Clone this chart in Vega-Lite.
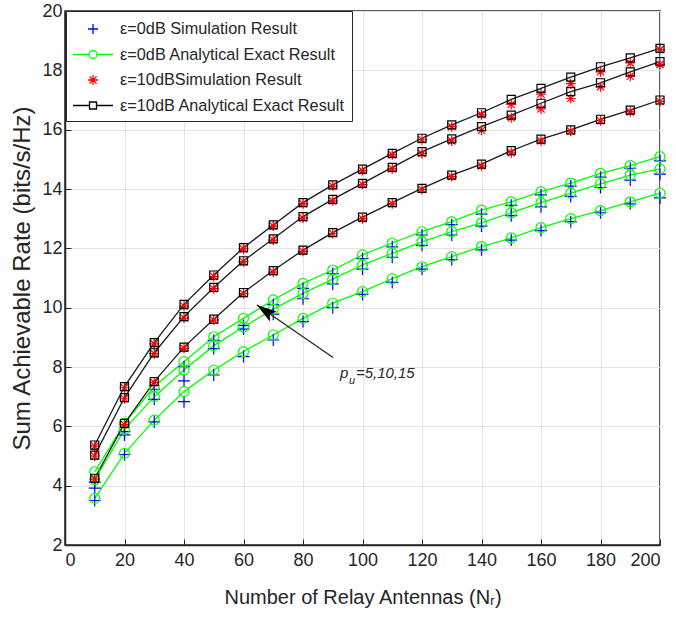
{
  "$schema": "https://vega.github.io/schema/vega-lite/v6.json",
  "width": 595,
  "height": 534,
  "autosize": "none",
  "padding": {"left": 65, "top": 11, "right": 16, "bottom": 76},
  "background": "white",
  "config": {
    "font": "Liberation Sans",
    "view": {"stroke": "#262626", "strokeWidth": 1.5},
    "axis": {
      "domainColor": "#262626", "domainWidth": 1.5, "tickColor": "#262626",
      "labelColor": "#262626", "titleColor": "#262626", "labelFontSize": 18,
      "gridColor": "#e3e3e3", "gridWidth": 1, "labelFont": "Liberation Sans",
      "titleFont": "Liberation Sans", "titleFontWeight": "normal"
    },
    "legend": {
      "orient": "none", "legendX": 1, "legendY": 0,
      "fillColor": "white", "strokeColor": "#262626", "padding": 7,
      "labelFont": "Liberation Sans", "labelFontSize": 16.3, "labelColor": "#262626", "labelLimit": 400,
      "symbolSize": 400, "symbolOffset": 9, "labelOffset": 16, "rowPadding": 5.5, "symbolStrokeWidth": 1.3, "symbolOpacity": 1
    }
  },
  "datasets": {
    "d": [
      {"N":10,"c":"g15","s":"ε=0dB Simulation Result","v":4.12},{"N":20,"c":"g15","s":"ε=0dB Simulation Result","v":5.82},{"N":30,"c":"g15","s":"ε=0dB Simulation Result","v":7.25},{"N":40,"c":"g15","s":"ε=0dB Simulation Result","v":8.01},{"N":50,"c":"g15","s":"ε=0dB Simulation Result","v":8.90},{"N":60,"c":"g15","s":"ε=0dB Simulation Result","v":9.40},{"N":70,"c":"g15","s":"ε=0dB Simulation Result","v":10.10},{"N":80,"c":"g15","s":"ε=0dB Simulation Result","v":10.65},{"N":90,"c":"g15","s":"ε=0dB Simulation Result","v":11.15},{"N":100,"c":"g15","s":"ε=0dB Simulation Result","v":11.65},{"N":110,"c":"g15","s":"ε=0dB Simulation Result","v":12.05},{"N":120,"c":"g15","s":"ε=0dB Simulation Result","v":12.45},{"N":130,"c":"g15","s":"ε=0dB Simulation Result","v":12.80},{"N":140,"c":"g15","s":"ε=0dB Simulation Result","v":13.15},{"N":150,"c":"g15","s":"ε=0dB Simulation Result","v":13.45},{"N":160,"c":"g15","s":"ε=0dB Simulation Result","v":13.80},{"N":170,"c":"g15","s":"ε=0dB Simulation Result","v":14.10},{"N":180,"c":"g15","s":"ε=0dB Simulation Result","v":14.40},{"N":190,"c":"g15","s":"ε=0dB Simulation Result","v":14.70},{"N":200,"c":"g15","s":"ε=0dB Simulation Result","v":14.95},
      {"N":10,"c":"g10","s":"ε=0dB Simulation Result","v":3.92},{"N":20,"c":"g10","s":"ε=0dB Simulation Result","v":5.71},{"N":30,"c":"g10","s":"ε=0dB Simulation Result","v":6.91},{"N":40,"c":"g10","s":"ε=0dB Simulation Result","v":7.53},{"N":50,"c":"g10","s":"ε=0dB Simulation Result","v":8.62},{"N":60,"c":"g10","s":"ε=0dB Simulation Result","v":9.28},{"N":70,"c":"g10","s":"ε=0dB Simulation Result","v":9.78},{"N":80,"c":"g10","s":"ε=0dB Simulation Result","v":10.30},{"N":90,"c":"g10","s":"ε=0dB Simulation Result","v":10.80},{"N":100,"c":"g10","s":"ε=0dB Simulation Result","v":11.30},{"N":110,"c":"g10","s":"ε=0dB Simulation Result","v":11.70},{"N":120,"c":"g10","s":"ε=0dB Simulation Result","v":12.10},{"N":130,"c":"g10","s":"ε=0dB Simulation Result","v":12.45},{"N":140,"c":"g10","s":"ε=0dB Simulation Result","v":12.75},{"N":150,"c":"g10","s":"ε=0dB Simulation Result","v":13.10},{"N":160,"c":"g10","s":"ε=0dB Simulation Result","v":13.40},{"N":170,"c":"g10","s":"ε=0dB Simulation Result","v":13.75},{"N":180,"c":"g10","s":"ε=0dB Simulation Result","v":14.05},{"N":190,"c":"g10","s":"ε=0dB Simulation Result","v":14.30},{"N":200,"c":"g10","s":"ε=0dB Simulation Result","v":14.50},
      {"N":10,"c":"g5","s":"ε=0dB Simulation Result","v":3.50},{"N":20,"c":"g5","s":"ε=0dB Simulation Result","v":5.05},{"N":30,"c":"g5","s":"ε=0dB Simulation Result","v":6.15},{"N":40,"c":"g5","s":"ε=0dB Simulation Result","v":6.83},{"N":50,"c":"g5","s":"ε=0dB Simulation Result","v":7.73},{"N":60,"c":"g5","s":"ε=0dB Simulation Result","v":8.35},{"N":70,"c":"g5","s":"ε=0dB Simulation Result","v":8.91},{"N":80,"c":"g5","s":"ε=0dB Simulation Result","v":9.53},{"N":90,"c":"g5","s":"ε=0dB Simulation Result","v":10.00},{"N":100,"c":"g5","s":"ε=0dB Simulation Result","v":10.45},{"N":110,"c":"g5","s":"ε=0dB Simulation Result","v":10.85},{"N":120,"c":"g5","s":"ε=0dB Simulation Result","v":11.30},{"N":130,"c":"g5","s":"ε=0dB Simulation Result","v":11.62},{"N":140,"c":"g5","s":"ε=0dB Simulation Result","v":11.95},{"N":150,"c":"g5","s":"ε=0dB Simulation Result","v":12.28},{"N":160,"c":"g5","s":"ε=0dB Simulation Result","v":12.60},{"N":170,"c":"g5","s":"ε=0dB Simulation Result","v":12.90},{"N":180,"c":"g5","s":"ε=0dB Simulation Result","v":13.20},{"N":190,"c":"g5","s":"ε=0dB Simulation Result","v":13.50},{"N":200,"c":"g5","s":"ε=0dB Simulation Result","v":13.70},
      {"N":10,"c":"g15","s":"ε=0dB Analytical Exact Result","v":4.47},{"N":20,"c":"g15","s":"ε=0dB Analytical Exact Result","v":6.10},{"N":30,"c":"g15","s":"ε=0dB Analytical Exact Result","v":7.34},{"N":40,"c":"g15","s":"ε=0dB Analytical Exact Result","v":8.18},{"N":50,"c":"g15","s":"ε=0dB Analytical Exact Result","v":9.02},{"N":60,"c":"g15","s":"ε=0dB Analytical Exact Result","v":9.64},{"N":70,"c":"g15","s":"ε=0dB Analytical Exact Result","v":10.26},{"N":80,"c":"g15","s":"ε=0dB Analytical Exact Result","v":10.82},{"N":90,"c":"g15","s":"ε=0dB Analytical Exact Result","v":11.27},{"N":100,"c":"g15","s":"ε=0dB Analytical Exact Result","v":11.78},{"N":110,"c":"g15","s":"ε=0dB Analytical Exact Result","v":12.18},{"N":120,"c":"g15","s":"ε=0dB Analytical Exact Result","v":12.56},{"N":130,"c":"g15","s":"ε=0dB Analytical Exact Result","v":12.90},{"N":140,"c":"g15","s":"ε=0dB Analytical Exact Result","v":13.29},{"N":150,"c":"g15","s":"ε=0dB Analytical Exact Result","v":13.57},{"N":160,"c":"g15","s":"ε=0dB Analytical Exact Result","v":13.91},{"N":170,"c":"g15","s":"ε=0dB Analytical Exact Result","v":14.20},{"N":180,"c":"g15","s":"ε=0dB Analytical Exact Result","v":14.53},{"N":190,"c":"g15","s":"ε=0dB Analytical Exact Result","v":14.79},{"N":200,"c":"g15","s":"ε=0dB Analytical Exact Result","v":15.09},
      {"N":10,"c":"g10","s":"ε=0dB Analytical Exact Result","v":4.20},{"N":20,"c":"g10","s":"ε=0dB Analytical Exact Result","v":5.90},{"N":30,"c":"g10","s":"ε=0dB Analytical Exact Result","v":7.00},{"N":40,"c":"g10","s":"ε=0dB Analytical Exact Result","v":7.90},{"N":50,"c":"g10","s":"ε=0dB Analytical Exact Result","v":8.72},{"N":60,"c":"g10","s":"ε=0dB Analytical Exact Result","v":9.35},{"N":70,"c":"g10","s":"ε=0dB Analytical Exact Result","v":9.95},{"N":80,"c":"g10","s":"ε=0dB Analytical Exact Result","v":10.48},{"N":90,"c":"g10","s":"ε=0dB Analytical Exact Result","v":10.96},{"N":100,"c":"g10","s":"ε=0dB Analytical Exact Result","v":11.44},{"N":110,"c":"g10","s":"ε=0dB Analytical Exact Result","v":11.83},{"N":120,"c":"g10","s":"ε=0dB Analytical Exact Result","v":12.22},{"N":130,"c":"g10","s":"ε=0dB Analytical Exact Result","v":12.56},{"N":140,"c":"g10","s":"ε=0dB Analytical Exact Result","v":12.86},{"N":150,"c":"g10","s":"ε=0dB Analytical Exact Result","v":13.20},{"N":160,"c":"g10","s":"ε=0dB Analytical Exact Result","v":13.54},{"N":170,"c":"g10","s":"ε=0dB Analytical Exact Result","v":13.86},{"N":180,"c":"g10","s":"ε=0dB Analytical Exact Result","v":14.17},{"N":190,"c":"g10","s":"ε=0dB Analytical Exact Result","v":14.47},{"N":200,"c":"g10","s":"ε=0dB Analytical Exact Result","v":14.68},
      {"N":10,"c":"g5","s":"ε=0dB Analytical Exact Result","v":3.57},{"N":20,"c":"g5","s":"ε=0dB Analytical Exact Result","v":5.09},{"N":30,"c":"g5","s":"ε=0dB Analytical Exact Result","v":6.21},{"N":40,"c":"g5","s":"ε=0dB Analytical Exact Result","v":7.17},{"N":50,"c":"g5","s":"ε=0dB Analytical Exact Result","v":7.90},{"N":60,"c":"g5","s":"ε=0dB Analytical Exact Result","v":8.52},{"N":70,"c":"g5","s":"ε=0dB Analytical Exact Result","v":9.08},{"N":80,"c":"g5","s":"ε=0dB Analytical Exact Result","v":9.64},{"N":90,"c":"g5","s":"ε=0dB Analytical Exact Result","v":10.15},{"N":100,"c":"g5","s":"ε=0dB Analytical Exact Result","v":10.54},{"N":110,"c":"g5","s":"ε=0dB Analytical Exact Result","v":10.98},{"N":120,"c":"g5","s":"ε=0dB Analytical Exact Result","v":11.38},{"N":130,"c":"g5","s":"ε=0dB Analytical Exact Result","v":11.72},{"N":140,"c":"g5","s":"ε=0dB Analytical Exact Result","v":12.06},{"N":150,"c":"g5","s":"ε=0dB Analytical Exact Result","v":12.35},{"N":160,"c":"g5","s":"ε=0dB Analytical Exact Result","v":12.70},{"N":170,"c":"g5","s":"ε=0dB Analytical Exact Result","v":13.00},{"N":180,"c":"g5","s":"ε=0dB Analytical Exact Result","v":13.27},{"N":190,"c":"g5","s":"ε=0dB Analytical Exact Result","v":13.57},{"N":200,"c":"g5","s":"ε=0dB Analytical Exact Result","v":13.86},
      {"N":10,"c":"b15","s":"ε=10dBSimulation Result","v":5.33},{"N":20,"c":"b15","s":"ε=10dBSimulation Result","v":7.30},{"N":30,"c":"b15","s":"ε=10dBSimulation Result","v":8.78},{"N":40,"c":"b15","s":"ε=10dBSimulation Result","v":10.05},{"N":50,"c":"b15","s":"ε=10dBSimulation Result","v":11.05},{"N":60,"c":"b15","s":"ε=10dBSimulation Result","v":11.98},{"N":70,"c":"b15","s":"ε=10dBSimulation Result","v":12.75},{"N":80,"c":"b15","s":"ε=10dBSimulation Result","v":13.50},{"N":90,"c":"b15","s":"ε=10dBSimulation Result","v":14.10},{"N":100,"c":"b15","s":"ε=10dBSimulation Result","v":14.62},{"N":110,"c":"b15","s":"ε=10dBSimulation Result","v":15.15},{"N":120,"c":"b15","s":"ε=10dBSimulation Result","v":15.66},{"N":130,"c":"b15","s":"ε=10dBSimulation Result","v":16.10},{"N":140,"c":"b15","s":"ε=10dBSimulation Result","v":16.50},{"N":150,"c":"b15","s":"ε=10dBSimulation Result","v":16.85},{"N":160,"c":"b15","s":"ε=10dBSimulation Result","v":17.20},{"N":170,"c":"b15","s":"ε=10dBSimulation Result","v":17.55},{"N":180,"c":"b15","s":"ε=10dBSimulation Result","v":17.95},{"N":190,"c":"b15","s":"ε=10dBSimulation Result","v":18.25},{"N":200,"c":"b15","s":"ε=10dBSimulation Result","v":18.70},
      {"N":10,"c":"b10","s":"ε=10dBSimulation Result","v":5.00},{"N":20,"c":"b10","s":"ε=10dBSimulation Result","v":6.93},{"N":30,"c":"b10","s":"ε=10dBSimulation Result","v":8.45},{"N":40,"c":"b10","s":"ε=10dBSimulation Result","v":9.65},{"N":50,"c":"b10","s":"ε=10dBSimulation Result","v":10.64},{"N":60,"c":"b10","s":"ε=10dBSimulation Result","v":11.55},{"N":70,"c":"b10","s":"ε=10dBSimulation Result","v":12.28},{"N":80,"c":"b10","s":"ε=10dBSimulation Result","v":13.02},{"N":90,"c":"b10","s":"ε=10dBSimulation Result","v":13.60},{"N":100,"c":"b10","s":"ε=10dBSimulation Result","v":14.15},{"N":110,"c":"b10","s":"ε=10dBSimulation Result","v":14.68},{"N":120,"c":"b10","s":"ε=10dBSimulation Result","v":15.20},{"N":130,"c":"b10","s":"ε=10dBSimulation Result","v":15.62},{"N":140,"c":"b10","s":"ε=10dBSimulation Result","v":15.98},{"N":150,"c":"b10","s":"ε=10dBSimulation Result","v":16.40},{"N":160,"c":"b10","s":"ε=10dBSimulation Result","v":16.70},{"N":170,"c":"b10","s":"ε=10dBSimulation Result","v":17.05},{"N":180,"c":"b10","s":"ε=10dBSimulation Result","v":17.45},{"N":190,"c":"b10","s":"ε=10dBSimulation Result","v":17.80},{"N":200,"c":"b10","s":"ε=10dBSimulation Result","v":18.20},
      {"N":10,"c":"b5","s":"ε=10dBSimulation Result","v":4.22},{"N":20,"c":"b5","s":"ε=10dBSimulation Result","v":6.06},{"N":30,"c":"b5","s":"ε=10dBSimulation Result","v":7.48},{"N":40,"c":"b5","s":"ε=10dBSimulation Result","v":8.63},{"N":50,"c":"b5","s":"ε=10dBSimulation Result","v":9.58},{"N":60,"c":"b5","s":"ε=10dBSimulation Result","v":10.47},{"N":70,"c":"b5","s":"ε=10dBSimulation Result","v":11.20},{"N":80,"c":"b5","s":"ε=10dBSimulation Result","v":11.90},{"N":90,"c":"b5","s":"ε=10dBSimulation Result","v":12.50},{"N":100,"c":"b5","s":"ε=10dBSimulation Result","v":13.00},{"N":110,"c":"b5","s":"ε=10dBSimulation Result","v":13.50},{"N":120,"c":"b5","s":"ε=10dBSimulation Result","v":13.98},{"N":130,"c":"b5","s":"ε=10dBSimulation Result","v":14.42},{"N":140,"c":"b5","s":"ε=10dBSimulation Result","v":14.78},{"N":150,"c":"b5","s":"ε=10dBSimulation Result","v":15.22},{"N":160,"c":"b5","s":"ε=10dBSimulation Result","v":15.62},{"N":170,"c":"b5","s":"ε=10dBSimulation Result","v":15.95},{"N":180,"c":"b5","s":"ε=10dBSimulation Result","v":16.30},{"N":190,"c":"b5","s":"ε=10dBSimulation Result","v":16.60},{"N":200,"c":"b5","s":"ε=10dBSimulation Result","v":16.95},
      {"N":10,"c":"b15","s":"ε=10dB Analytical Exact Result","v":5.37},{"N":20,"c":"b15","s":"ε=10dB Analytical Exact Result","v":7.34},{"N":30,"c":"b15","s":"ε=10dB Analytical Exact Result","v":8.82},{"N":40,"c":"b15","s":"ε=10dB Analytical Exact Result","v":10.11},{"N":50,"c":"b15","s":"ε=10dB Analytical Exact Result","v":11.10},{"N":60,"c":"b15","s":"ε=10dB Analytical Exact Result","v":12.02},{"N":70,"c":"b15","s":"ε=10dB Analytical Exact Result","v":12.79},{"N":80,"c":"b15","s":"ε=10dB Analytical Exact Result","v":13.54},{"N":90,"c":"b15","s":"ε=10dB Analytical Exact Result","v":14.14},{"N":100,"c":"b15","s":"ε=10dB Analytical Exact Result","v":14.67},{"N":110,"c":"b15","s":"ε=10dB Analytical Exact Result","v":15.20},{"N":120,"c":"b15","s":"ε=10dB Analytical Exact Result","v":15.71},{"N":130,"c":"b15","s":"ε=10dB Analytical Exact Result","v":16.16},{"N":140,"c":"b15","s":"ε=10dB Analytical Exact Result","v":16.57},{"N":150,"c":"b15","s":"ε=10dB Analytical Exact Result","v":17.02},{"N":160,"c":"b15","s":"ε=10dB Analytical Exact Result","v":17.39},{"N":170,"c":"b15","s":"ε=10dB Analytical Exact Result","v":17.77},{"N":180,"c":"b15","s":"ε=10dB Analytical Exact Result","v":18.12},{"N":190,"c":"b15","s":"ε=10dB Analytical Exact Result","v":18.42},{"N":200,"c":"b15","s":"ε=10dB Analytical Exact Result","v":18.74},
      {"N":10,"c":"b10","s":"ε=10dB Analytical Exact Result","v":5.03},{"N":20,"c":"b10","s":"ε=10dB Analytical Exact Result","v":6.97},{"N":30,"c":"b10","s":"ε=10dB Analytical Exact Result","v":8.48},{"N":40,"c":"b10","s":"ε=10dB Analytical Exact Result","v":9.70},{"N":50,"c":"b10","s":"ε=10dB Analytical Exact Result","v":10.68},{"N":60,"c":"b10","s":"ε=10dB Analytical Exact Result","v":11.58},{"N":70,"c":"b10","s":"ε=10dB Analytical Exact Result","v":12.32},{"N":80,"c":"b10","s":"ε=10dB Analytical Exact Result","v":13.07},{"N":90,"c":"b10","s":"ε=10dB Analytical Exact Result","v":13.65},{"N":100,"c":"b10","s":"ε=10dB Analytical Exact Result","v":14.19},{"N":110,"c":"b10","s":"ε=10dB Analytical Exact Result","v":14.73},{"N":120,"c":"b10","s":"ε=10dB Analytical Exact Result","v":15.26},{"N":130,"c":"b10","s":"ε=10dB Analytical Exact Result","v":15.69},{"N":140,"c":"b10","s":"ε=10dB Analytical Exact Result","v":16.10},{"N":150,"c":"b10","s":"ε=10dB Analytical Exact Result","v":16.49},{"N":160,"c":"b10","s":"ε=10dB Analytical Exact Result","v":16.89},{"N":170,"c":"b10","s":"ε=10dB Analytical Exact Result","v":17.28},{"N":180,"c":"b10","s":"ε=10dB Analytical Exact Result","v":17.58},{"N":190,"c":"b10","s":"ε=10dB Analytical Exact Result","v":17.95},{"N":200,"c":"b10","s":"ε=10dB Analytical Exact Result","v":18.29},
      {"N":10,"c":"b5","s":"ε=10dB Analytical Exact Result","v":4.25},{"N":20,"c":"b5","s":"ε=10dB Analytical Exact Result","v":6.10},{"N":30,"c":"b5","s":"ε=10dB Analytical Exact Result","v":7.51},{"N":40,"c":"b5","s":"ε=10dB Analytical Exact Result","v":8.67},{"N":50,"c":"b5","s":"ε=10dB Analytical Exact Result","v":9.61},{"N":60,"c":"b5","s":"ε=10dB Analytical Exact Result","v":10.51},{"N":70,"c":"b5","s":"ε=10dB Analytical Exact Result","v":11.25},{"N":80,"c":"b5","s":"ε=10dB Analytical Exact Result","v":11.94},{"N":90,"c":"b5","s":"ε=10dB Analytical Exact Result","v":12.53},{"N":100,"c":"b5","s":"ε=10dB Analytical Exact Result","v":13.05},{"N":110,"c":"b5","s":"ε=10dB Analytical Exact Result","v":13.54},{"N":120,"c":"b5","s":"ε=10dB Analytical Exact Result","v":14.02},{"N":130,"c":"b5","s":"ε=10dB Analytical Exact Result","v":14.47},{"N":140,"c":"b5","s":"ε=10dB Analytical Exact Result","v":14.84},{"N":150,"c":"b5","s":"ε=10dB Analytical Exact Result","v":15.29},{"N":160,"c":"b5","s":"ε=10dB Analytical Exact Result","v":15.68},{"N":170,"c":"b5","s":"ε=10dB Analytical Exact Result","v":15.99},{"N":180,"c":"b5","s":"ε=10dB Analytical Exact Result","v":16.35},{"N":190,"c":"b5","s":"ε=10dB Analytical Exact Result","v":16.66},{"N":200,"c":"b5","s":"ε=10dB Analytical Exact Result","v":17.00}
    ],
    "arrow": [{"N": 90.1, "v": 8.32, "N2": 64.5, "v2": 10.09}],
    "note": [{"N": 92.4, "v": 7.64}]
  },
  "layer": [
    {
      "data": {"name": "d"},
      "transform": [{"filter": "datum.s === 'ε=0dB Analytical Exact Result'"}],
      "mark": {"type": "line", "color": "#00ff00", "strokeWidth": 1.3},
      "encoding": {
        "x": {"field": "N", "type": "quantitative", "scale": {"domain": [0, 200], "nice": false},
              "axis": {"title": "Number of Relay Antennas (Nᵣ)", "values": [0,20,40,60,80,100,120,140,160,180,200], "titleFontSize": 20, "labelPadding": 12, "titlePadding": 18, "tickSize": -6}},
        "y": {"field": "v", "type": "quantitative", "scale": {"domain": [2, 20], "nice": false},
              "axis": {"title": "Sum Achievable Rate (bits/s/Hz)", "values": [2,4,6,8,10,12,14,16,18,20], "titleFontSize": 24, "labelPadding": 9, "titlePadding": 7, "tickSize": -6}},
        "detail": {"field": "c"}
      }
    },
    {
      "data": {"name": "d"},
      "transform": [{"filter": "datum.s === 'ε=10dB Analytical Exact Result'"}],
      "mark": {"type": "line", "color": "#1a1a1a", "strokeWidth": 1.3},
      "encoding": {
        "x": {"field": "N", "type": "quantitative"},
        "y": {"field": "v", "type": "quantitative"},
        "detail": {"field": "c"}
      }
    },
    {
      "data": {"name": "d"},
      "mark": {"type": "point", "filled": false, "size": 400, "strokeWidth": 1.3, "opacity": 0},
      "encoding": {
        "x": {"field": "N", "type": "quantitative"},
        "y": {"field": "v", "type": "quantitative"},
        "color": {"field": "s", "type": "nominal",
          "scale": {"domain": ["ε=0dB Simulation Result", "ε=0dB Analytical Exact Result", "ε=10dBSimulation Result", "ε=10dB Analytical Exact Result"],
                    "range": ["#0000ff", "#00ff00", "#ff0000", "#000000"]},
          "legend": {"title": null, "symbolOpacity": 1}},
        "shape": {"field": "s", "type": "nominal",
          "scale": {"domain": ["ε=0dB Simulation Result", "ε=0dB Analytical Exact Result", "ε=10dBSimulation Result", "ε=10dB Analytical Exact Result"],
                    "range": ["M-0.5,0H0.5M0,-0.5V0.5", "M-2,0H-0.4M0.4,0H2M-0.4,0A0.4,0.4 0 1,1 0.4,0A0.4,0.4 0 1,1 -0.4,0", "M-0.5,0H0.5M0,-0.5V0.5M-0.35,-0.35L0.35,0.35M-0.35,0.35L0.35,-0.35", "M-2,0H-0.35M0.35,0H2M-0.35,-0.35H0.35V0.35H-0.35Z"]},
          "legend": {"title": null, "symbolOpacity": 1}}
      }
    },
    {
      "data": {"name": "d"},
      "transform": [{"filter": "datum.s === 'ε=0dB Simulation Result'"}],
      "mark": {"type": "point", "filled": false, "size": 144, "strokeWidth": 1.2, "opacity": 1, "color": "#0000ff", "shape": "M-1,0H1M0,-1V1"},
      "encoding": {"x": {"field": "N", "type": "quantitative"}, "y": {"field": "v", "type": "quantitative"}}
    },
    {
      "data": {"name": "d"},
      "transform": [{"filter": "datum.s === 'ε=0dB Analytical Exact Result'"}],
      "mark": {"type": "point", "filled": false, "size": 144, "strokeWidth": 1.2, "opacity": 1, "color": "#00ff00", "shape": "M-0.83,0A0.83,0.83 0 1,1 0.83,0A0.83,0.83 0 1,1 -0.83,0Z"},
      "encoding": {"x": {"field": "N", "type": "quantitative"}, "y": {"field": "v", "type": "quantitative"}}
    },
    {
      "data": {"name": "d"},
      "transform": [{"filter": "datum.s === 'ε=10dBSimulation Result'"}],
      "mark": {"type": "point", "filled": false, "size": 144, "strokeWidth": 1.2, "opacity": 1, "color": "#ff0000", "shape": "M-0.83,0H0.83M0,-0.83V0.83M-0.6,-0.6L0.6,0.6M-0.6,0.6L0.6,-0.6"},
      "encoding": {"x": {"field": "N", "type": "quantitative"}, "y": {"field": "v", "type": "quantitative"}}
    },
    {
      "data": {"name": "d"},
      "transform": [{"filter": "datum.s === 'ε=10dB Analytical Exact Result'"}],
      "mark": {"type": "point", "filled": false, "size": 144, "strokeWidth": 1.2, "opacity": 1, "color": "#000000", "shape": "M-0.67,-0.67H0.67V0.67H-0.67Z"},
      "encoding": {"x": {"field": "N", "type": "quantitative"}, "y": {"field": "v", "type": "quantitative"}}
    },
    {
      "data": {"name": "arrow"},
      "mark": {"type": "rule", "color": "#262626", "strokeWidth": 1.3},
      "encoding": {
        "x": {"field": "N", "type": "quantitative"},
        "y": {"field": "v", "type": "quantitative"},
        "x2": {"field": "N2"},
        "y2": {"field": "v2"}
      }
    },
    {
      "data": {"name": "arrow"},
      "mark": {"type": "point", "shape": "M0,0L-1.2,4L0,3.2L1.2,4Z", "size": 100, "filled": true, "color": "#000000", "opacity": 1, "angle": 305},
      "encoding": {
        "x": {"field": "N2", "type": "quantitative"},
        "y": {"field": "v2", "type": "quantitative"}
      }
    },
    {
      "data": {"name": "note"},
      "mark": {"type": "text", "text": "p", "fontStyle": "italic", "fontSize": 15, "align": "left", "baseline": "alphabetic", "color": "#262626"},
      "encoding": {"x": {"field": "N", "type": "quantitative"}, "y": {"field": "v", "type": "quantitative"}}
    },
    {
      "data": {"name": "note"},
      "mark": {"type": "text", "text": "u", "fontStyle": "italic", "fontSize": 11, "align": "left", "baseline": "alphabetic", "dx": 9, "dy": 6, "color": "#262626"},
      "encoding": {"x": {"field": "N", "type": "quantitative"}, "y": {"field": "v", "type": "quantitative"}}
    },
    {
      "data": {"name": "note"},
      "mark": {"type": "text", "text": "=5,10,15", "fontStyle": "italic", "fontSize": 15, "align": "left", "baseline": "alphabetic", "dx": 16, "color": "#262626"},
      "encoding": {"x": {"field": "N", "type": "quantitative"}, "y": {"field": "v", "type": "quantitative"}}
    }
  ]
}
